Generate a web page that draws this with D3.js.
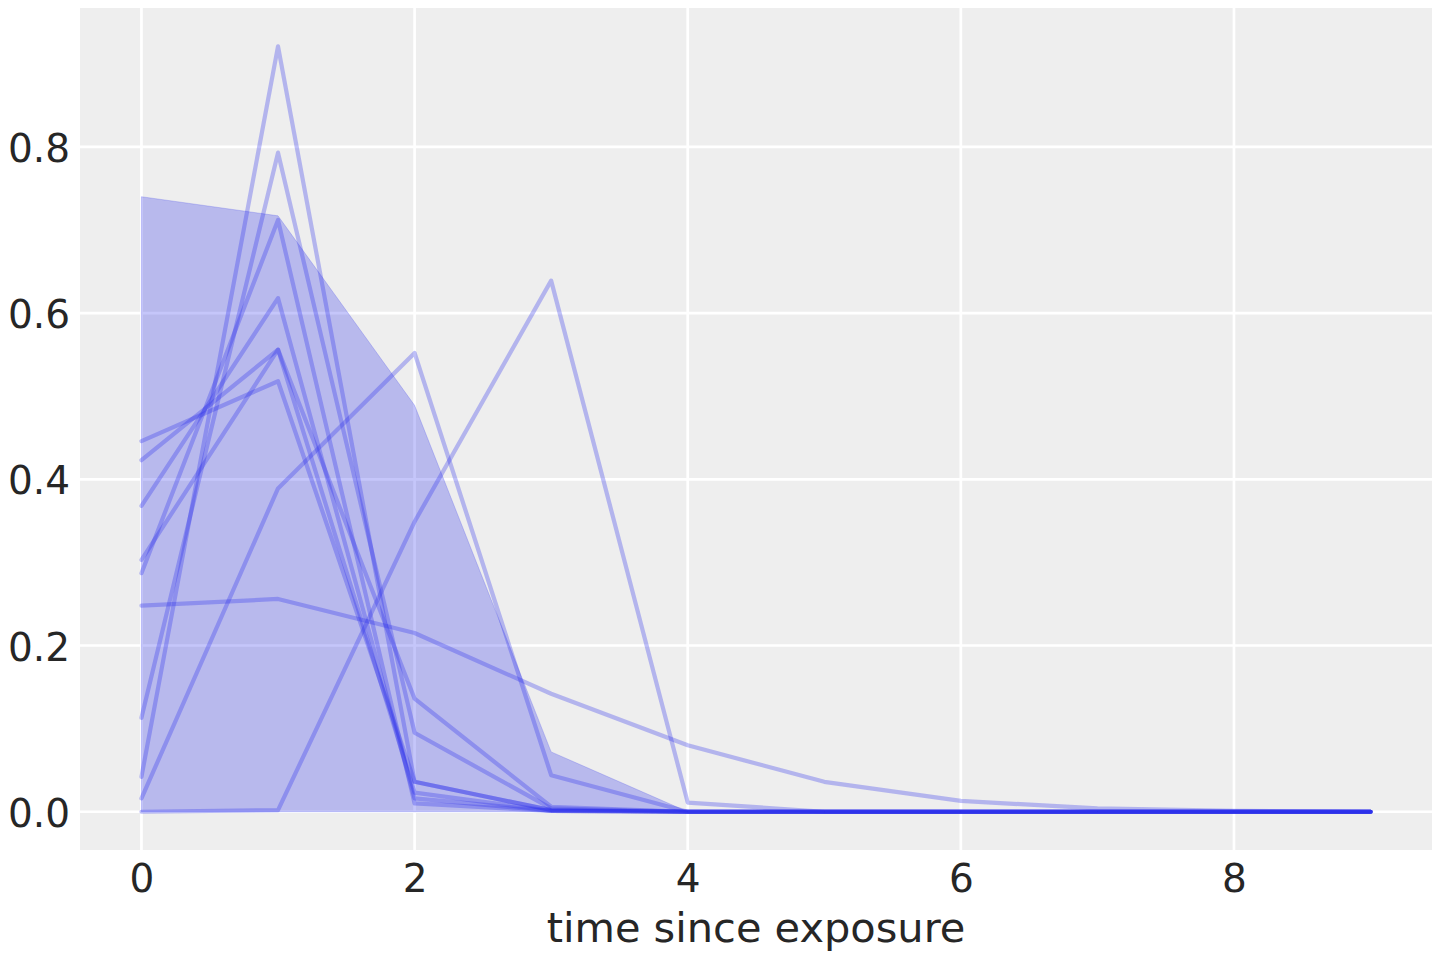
<!DOCTYPE html>
<html>
<head>
<meta charset="utf-8">
<script src="https://cdn.jsdelivr.net/npm/d3@7"></script>
<style>
  body { margin: 0; background: #fff; }
  text { font-family: "DejaVu Sans", sans-serif; fill: #262626; }
</style>
</head>
<body>
<div data-output></div>
<script>
// time steps on the x axis
const times = [0, 1, 2, 3, 4, 5, 6, 7, 8, 9];

// posterior draws, one array per line
const drawA = [0.248, 0.256, 0.215, 0.142, 0.080, 0.036, 0.013, 0.004, 0.001, 0.000];
const drawB = [0.000, 0.002, 0.349, 0.639, 0.011, 0.000, 0.000, 0.000, 0.000, 0.000];
const drawC = [0.016, 0.389, 0.552, 0.044, 0.000, 0.000, 0.000, 0.000, 0.000, 0.000];
const drawD = [0.446, 0.518, 0.036, 0.002, 0.000, 0.000, 0.000, 0.000, 0.000, 0.000];
const drawE = [0.423, 0.556, 0.023, 0.001, 0.000, 0.000, 0.000, 0.000, 0.000, 0.000];
const drawF = [0.368, 0.618, 0.016, 0.001, 0.000, 0.000, 0.000, 0.000, 0.000, 0.000];
const drawG = [0.303, 0.556, 0.136, 0.006, 0.000, 0.000, 0.000, 0.000, 0.000, 0.000];
const drawH = [0.287, 0.712, 0.010, 0.001, 0.000, 0.000, 0.000, 0.000, 0.000, 0.000];
const drawI = [0.113, 0.793, 0.095, 0.004, 0.000, 0.000, 0.000, 0.000, 0.000, 0.000];
const drawJ = [0.042, 0.921, 0.036, 0.002, 0.000, 0.000, 0.000, 0.000, 0.000, 0.000];

// hdi band
const hdiLow  = [0, 0, 0, 0, 0, 0, 0, 0, 0, 0];
const hdiHigh = [0.740, 0.717, 0.489, 0.072, 0.000, 0.000, 0.000, 0.000, 0.000, 0.000];

const xTicks = [0, 2, 4, 6, 8];
const yTicks = [0.0, 0.2, 0.4, 0.6, 0.8];
const xLabel = 'time since exposure';

const draws = [drawA, drawB, drawC, drawD, drawE, drawF, drawG, drawH, drawI, drawJ];

const COLOR = '#2a2eec';
const SIZE = { WIDTH: 1440, HEIGHT: 960 };
const margin = { top: 8, right: 8, bottom: 110, left: 80 };

const width = SIZE.WIDTH - margin.left - margin.right;
const height = SIZE.HEIGHT - margin.top - margin.bottom;

// matplotlib style 5% margins around the data
const pad = (lo, hi) => [lo - (hi - lo) * 0.05, hi + (hi - lo) * 0.05];
const yMax = d3.max([...draws.flat(), ...hdiHigh]);

const x = d3.scaleLinear().domain(pad(d3.min(times), d3.max(times))).range([0, width]);
const y = d3.scaleLinear().domain(pad(0, yMax)).range([height, 0]);

const svg = d3.select('[data-output]').append('svg')
  .attr('width', SIZE.WIDTH)
  .attr('height', SIZE.HEIGHT)
  .append('g')
  .attr('transform', `translate(${margin.left}, ${margin.top})`);

// background
svg.append('rect')
  .attr('width', width)
  .attr('height', height)
  .attr('fill', '#eeeeee');

// grid
svg.append('g')
  .selectAll('line')
  .data(xTicks)
  .join('line')
  .attr('x1', d => x(d)).attr('x2', d => x(d))
  .attr('y1', 0).attr('y2', height)
  .attr('stroke', '#fff').attr('stroke-width', 2.7);

svg.append('g')
  .selectAll('line')
  .data(yTicks)
  .join('line')
  .attr('y1', d => y(d)).attr('y2', d => y(d))
  .attr('x1', 0).attr('x2', width)
  .attr('stroke', '#fff').attr('stroke-width', 2.7);

// draws
const valueLine = d3.line()
  .x((d, i) => x(times[i]))
  .y(d => y(d));

svg.append('g')
  .selectAll('path')
  .data(draws)
  .join('path')
  .attr('d', valueLine)
  .attr('fill', 'none')
  .attr('stroke', COLOR)
  .attr('stroke-opacity', 0.3)
  .attr('stroke-width', 4.2)
  .attr('stroke-linejoin', 'round')
  .attr('stroke-linecap', 'round');

// hdi band
const band = d3.area()
  .x((d, i) => x(times[i]))
  .y0((d, i) => y(hdiLow[i]))
  .y1(d => y(d));

svg.append('path')
  .datum(hdiHigh)
  .attr('d', band)
  .attr('fill', COLOR)
  .attr('fill-opacity', 0.27)
  .attr('stroke', COLOR)
  .attr('stroke-opacity', 0.2)
  .attr('stroke-width', 1);

// axes
const xAxis = svg.append('g')
  .attr('transform', `translate(0, ${height})`)
  .call(d3.axisBottom(x).tickValues(xTicks).tickFormat(d3.format('d')).tickSize(0).tickPadding(0));
xAxis.select('.domain').remove();
xAxis.selectAll('text')
  .attr('dy', 0)
  .attr('y', 42)
  .style('font-size', '39px')
  .style('font-family', '"DejaVu Sans"')
  .attr('fill', '#262626');

const yAxis = svg.append('g')
  .call(d3.axisLeft(y).tickValues(yTicks).tickFormat(d3.format('.1f')).tickSize(0).tickPadding(0));
yAxis.select('.domain').remove();
yAxis.selectAll('text')
  .attr('dy', 0)
  .attr('x', -10)
  .attr('y', 14.5)
  .style('font-size', '39px')
  .style('font-family', '"DejaVu Sans"')
  .attr('fill', '#262626');

svg.append('text')
  .attr('x', width / 2)
  .attr('y', height + 92)
  .attr('text-anchor', 'middle')
  .style('font-size', '41.5px')
  .text(xLabel);
</script>
</body>
</html>
